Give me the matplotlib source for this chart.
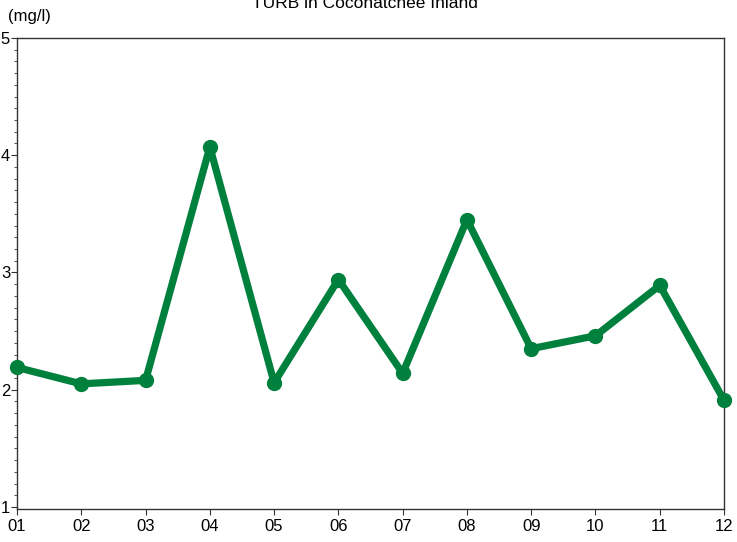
import numpy as np
import matplotlib.pyplot as plt
from matplotlib.ticker import MultipleLocator

plt.rcParams['font.family'] = ['Liberation Sans', 'DejaVu Sans']

# monthly turbidity values
months = ['01', '02', '03', '04', '05', '06', '07', '08', '09', '10', '11', '12']
turb = [2.19, 2.05, 2.08, 4.07, 2.06, 2.94, 2.14, 3.45, 2.35, 2.46, 2.89, 1.91]

GREEN = '#00803d'

fig = plt.figure(figsize=(7.37, 5.42), dpi=100)
ax = fig.add_axes([0.0231, 0.0609, 0.9593, 0.8691])

x = np.arange(1, len(months) + 1)
ax.plot(x, turb, color=GREEN, linewidth=5.2, marker='o', markersize=10,
        solid_capstyle='round', clip_on=False, zorder=3)

ax.set_xlim(1, 12)
ax.set_ylim(0.983, 5)
ax.set_xticks(x)
ax.set_xticklabels(months)
ax.set_yticks([1, 2, 3, 4, 5])
ax.yaxis.set_minor_locator(MultipleLocator(0.1))

for s in ax.spines.values():
    s.set_color('#333333')
    s.set_linewidth(1.0)

ax.tick_params(axis='both', which='major', direction='out', length=4,
               width=0.8, color='#333333', labelsize=12, pad=1)
ax.tick_params(axis='x', which='major', pad=3.5)
ax.tick_params(axis='y', which='minor', direction='out', length=2,
               width=0.6, color='#333333')

fig.text(0.495, 0.994, 'TURB in Coconatchee Inland', ha='center', va='center',
         fontsize=12.5)
fig.text(0.011, 0.97, '(mg/l)', ha='left', va='center', fontsize=12)

fig.savefig('out.png', dpi=100)
